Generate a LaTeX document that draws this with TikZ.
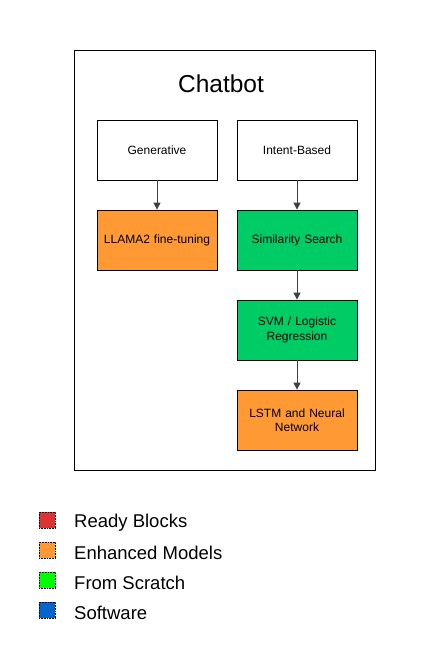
\documentclass[tikz,border=0pt]{standalone}
\usepackage{fontspec}
\setmainfont{Liberation Sans}
\usetikzlibrary{arrows.meta}
\definecolor{orangeF}{HTML}{FF9933}
\definecolor{greenF}{HTML}{00CC66}
\definecolor{legred}{HTML}{DD3333}
\definecolor{leggreen}{HTML}{00FF00}
\definecolor{legblue}{HTML}{0066CC}
\begin{document}
\begin{tikzpicture}[x=1pt,y=-1pt,
  blockbox/.style={draw=black, line width=0.8pt, minimum width=120pt, minimum height=60pt, align=center, font=\fontsize{12}{14.5}\selectfont, inner sep=2pt, text width=114pt},
  conn/.style={draw=black!75, line width=1pt, -{Triangle[length=7pt,width=7pt]}},
  legsq/.style={draw=black, densely dotted, line width=0.6pt, minimum width=16pt, minimum height=16pt, inner sep=0pt},
  legtxt/.style={anchor=west, font=\fontsize{18.5}{22}\selectfont, inner sep=0pt}]
\useasboundingbox[fill=white] (0,0) rectangle (435,656);
\node[draw=black, line width=0.8pt, minimum width=301pt, minimum height=420pt, inner sep=0pt] (frame) at (224.5,260) {};
\node[font=\fontsize{24.5}{28}\selectfont] (title) at (221,84) {Chatbot};
\node[blockbox, fill=white] (gen) at (157,150) {Generative};
\node[blockbox, fill=white] (int) at (297,150) {Intent-Based};
\node[blockbox, fill=orangeF] (llama) at (157,240) {LLAMA2 fine-tuning};
\node[blockbox, fill=greenF] (sim) at (297,240) {Similarity Search};
\node[blockbox, fill=greenF] (svm) at (297,330) {SVM / Logistic\\Regression};
\node[blockbox, fill=orangeF] (lstm) at (297,420) {LSTM and Neural\\Network};
\draw[conn] (gen) -- (llama);
\draw[conn] (int) -- (sim);
\draw[conn] (sim) -- (svm);
\draw[conn] (svm) -- (lstm);
\node[legsq, fill=legred] (l1) at (47,520) {};
\node[legsq, fill=orangeF] (l2) at (47,550) {};
\node[legsq, fill=leggreen] (l3) at (47,580) {};
\node[legsq, fill=legblue] (l4) at (47,610) {};
\node[legtxt] (t1) at (74,522.5) {Ready Blocks};
\node[legtxt] (t2) at (74,552.5) {Enhanced Models};
\node[legtxt] (t3) at (74,582.5) {From Scratch};
\node[legtxt] (t4) at (74,612.5) {Software};
\end{tikzpicture}
\end{document}
